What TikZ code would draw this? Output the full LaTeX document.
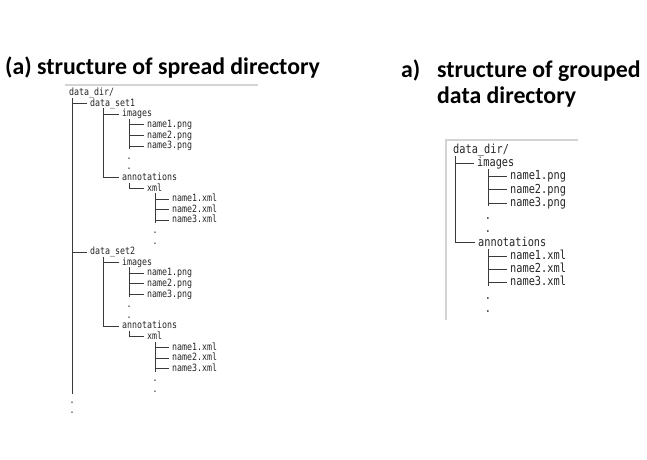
\documentclass[tikz,border=0pt]{standalone}
\usepackage{fontspec}
\setmainfont{Carlito}
\newfontfamily\treefont[FakeStretch=0.83]{DejaVu Sans Mono}
\usetikzlibrary{calc}
\definecolor{txt}{HTML}{262626}
\definecolor{lnc}{HTML}{3A3A3A}
\definecolor{frm}{HTML}{D4D4D4}
\begin{document}
\begin{tikzpicture}[x=1pt,y=-1pt,
  head/.style={font=\fontsize{23.8}{28}\selectfont\bfseries, anchor=base west, inner sep=0pt, text=black},
  lt/.style={font=\treefont\fontsize{10}{12}\selectfont, anchor=base west, inner sep=0pt, text height=7.2pt, text depth=1.8pt, text=txt},
  ldot/.style={lt, anchor=base},
  rt/.style={font=\treefont\fontsize{12.4}{14}\selectfont, anchor=base west, inner sep=0pt, text height=8.9pt, text depth=2.2pt, text=txt},
  rdot/.style={rt, anchor=base},
  tl/.style={draw=lnc, line width=0.8pt},
  frame/.style={draw=frm, line width=1.4pt}]
\useasboundingbox[fill=white] (0,0) rectangle (647,459);

% headings
\node[head] (h1) at (5,74) {(a) structure of spread directory};
\node[head] (h2a) at (401,77) {a)};
\node[head] (h2b) at (437,77) {structure of grouped};
\node[head] (h2c) at (437,103) {data directory};

% frames
\draw[frame] (65,85) -- (258,85);
\draw[frame] (446,320) -- (446,140) -- (578,140);

% ---------- left tree ----------
\coordinate (a0) at (72,0);
\coordinate (b0) at (103,0);
\coordinate (c0) at (129,0);
\coordinate (d0) at (155,0);
\coordinate (a0end) at (72,394);

\node[lt] (root) at (69,95.7) {data\_dir/};
\draw[tl] (root.south -| a0) -- (a0end);

\foreach \k/\g/\n in {0/1/1,14/2/2}{
  \node[lt] (ds\g) at (90,{95.7+10.6*(\k+1)}) {data\_set\n};
  \node[lt] (im\g) at (122,{95.7+10.6*(\k+2)}) {images};
  \node[lt] (pa\g) at (147,{95.7+10.6*(\k+3)}) {name1.png};
  \node[lt] (pb\g) at (147,{95.7+10.6*(\k+4)}) {name2.png};
  \node[lt] (pc\g) at (147,{95.7+10.6*(\k+5)}) {name3.png};
  \node[ldot] (pd\g) at (129,{95.7+10.6*(\k+6)}) {.};
  \node[ldot] (pe\g) at (129,{95.7+10.6*(\k+7)}) {.};
  \node[lt] (an\g) at (122,{95.7+10.6*(\k+8)}) {annotations};
  \node[lt] (xm\g) at (147,{95.7+10.6*(\k+9)}) {xml};
  \node[lt] (xa\g) at (172,{95.7+10.6*(\k+10)}) {name1.xml};
  \node[lt] (xb\g) at (172,{95.7+10.6*(\k+11)}) {name2.xml};
  \node[lt] (xc\g) at (172,{95.7+10.6*(\k+12)}) {name3.xml};
  \node[ldot] (xd\g) at (155,{95.7+10.6*(\k+13)}) {.};
  \node[ldot] (xe\g) at (155,{95.7+10.6*(\k+14)}) {.};
  % connectors
  \draw[tl] (ds\g.west -| a0) -- ([xshift=-3pt]ds\g.west);
  \draw[tl] (ds\g.south -| b0) |- ([xshift=-3pt]an\g.west);
  \draw[tl] (im\g.west -| b0) -- ([xshift=-3pt]im\g.west);
  \draw[tl] (im\g.south -| c0) -- ($(pc\g.west -| c0)+(0,3)$);
  \foreach \p in {pa,pb,pc}{\draw[tl] (\p\g.west -| c0) -- ([xshift=-3pt]\p\g.west);}
  \draw[tl] (an\g.south -| c0) |- ([xshift=-3pt]xm\g.west);
  \draw[tl] (xm\g.south -| d0) -- ($(xc\g.west -| d0)+(0,3)$);
  \foreach \p in {xa,xb,xc}{\draw[tl] (\p\g.west -| d0) -- ([xshift=-3pt]\p\g.west);}
}
\node[ldot] (ld1) at (72,{95.7+10.6*29}) {.};
\node[ldot] (ld2) at (72,{95.7+10.6*30}) {.};

% ---------- right tree ----------
\coordinate (e0) at (455,0);
\coordinate (f0) at (488,0);
\node[rt] (r0) at (453,153.35) {data\_dir/};
\node[rt] (r1) at (477,{153.35+13.25*1}) {images};
\node[rt] (r2) at (510,{153.35+13.25*2}) {name1.png};
\node[rt] (r3) at (510,{153.35+13.25*3}) {name2.png};
\node[rt] (r4) at (510,{153.35+13.25*4}) {name3.png};
\node[rdot] (r5) at (488,{153.35+13.25*5}) {.};
\node[rdot] (r6) at (488,{153.35+13.25*6}) {.};
\node[rt] (r7) at (478,{153.35+13.25*7}) {annotations};
\node[rt] (r8) at (510,{153.35+13.25*8}) {name1.xml};
\node[rt] (r9) at (510,{153.35+13.25*9}) {name2.xml};
\node[rt] (r10) at (510,{153.35+13.25*10}) {name3.xml};
\node[rdot] (r11) at (488,{153.35+13.25*11}) {.};
\node[rdot] (r12) at (488,{153.35+13.25*12}) {.};

\draw[tl] (r0.south -| e0) |- ([xshift=-3pt]r7.west);
\draw[tl] (r1.west -| e0) -- ([xshift=-3pt]r1.west);
\draw[tl] (r1.south -| f0) -- ($(r4.west -| f0)+(0,3)$);
\foreach \p in {r2,r3,r4}{\draw[tl] (\p.west -| f0) -- ([xshift=-3pt]\p.west);}
\draw[tl] (r7.south -| f0) -- ($(r10.west -| f0)+(0,3)$);
\foreach \p in {r8,r9,r10}{\draw[tl] (\p.west -| f0) -- ([xshift=-3pt]\p.west);}
\end{tikzpicture}
\end{document}
